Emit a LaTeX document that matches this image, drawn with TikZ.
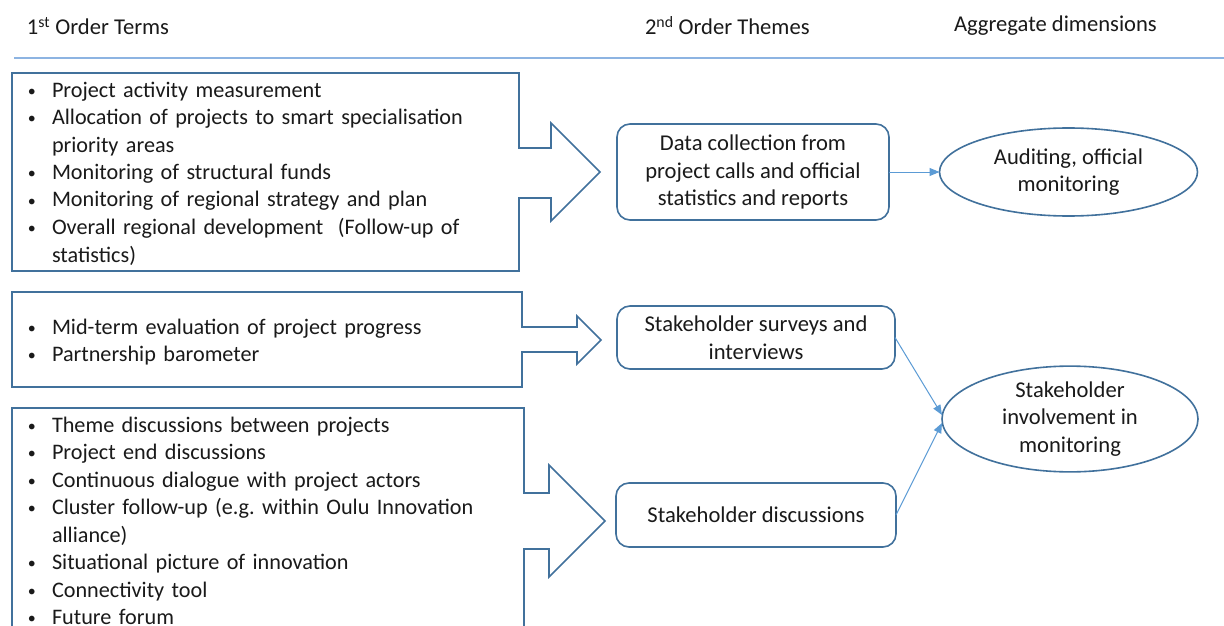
\documentclass[tikz,border=0pt]{standalone}
\usepackage{fontspec}
\setmainfont{Carlito}
\usetikzlibrary{shapes.geometric,arrows.meta,calc}
\definecolor{boxblue}{HTML}{41719C}
\definecolor{linkblue}{HTML}{5B9BD5}
\definecolor{ruleblue}{HTML}{8DB4E2}
\definecolor{txt}{HTML}{1A1A1A}
\newcommand{\bul}{\makebox[25pt][l]{\hspace*{1pt}\raisebox{1pt}{\fontsize{16}{16}\selectfont\textbullet}}}
\newcommand{\cont}{\hspace*{25pt}}
\tikzset{
  every node/.style={inner sep=0pt, outer sep=0pt, text=txt},
  basefont/.style={font=\fontsize{22.6}{27.6}\selectfont},
  hdr/.style={basefont},
  callout/.style={draw=boxblue, line width=1.6pt, line join=miter},
  listtext/.style={font=\fontsize{22.2}{27.5}\selectfont, text width=495pt, align=left, anchor=base west},
  theme/.style={basefont, draw=boxblue, line width=1.6pt, rounded corners=13pt, align=center},
  dimension/.style={basefont, draw=boxblue, line width=1.6pt, ellipse, align=center},
  link/.style={draw=linkblue, line width=1pt, -{Triangle[length=10pt,width=8pt]}},
}
\begin{document}
\begin{tikzpicture}[x=1pt,y=-1pt]
\useasboundingbox (0,0) rectangle (1224,626);
\clip (0,0) rectangle (1224,626);
\fill[white] (0,0) rectangle (1224,626);

% headers
\node[hdr, anchor=base west] (h1) at (27,35) {1\textsuperscript{st} Order Terms};
\node[hdr, anchor=base west] (h2) at (645,35) {2\textsuperscript{nd} Order Themes};
\node[hdr, anchor=base west] (h3) at (954,32) {Aggregate dimensions};
\draw[ruleblue, line width=1.6pt] (14,58) -- (1224,58);

% callout outlines
\draw[callout] (12,73) -- (519,73) -- (519,148) -- (551,148) -- (551,123) -- (600,172)
  -- (551,221) -- (551,198) -- (519,198) -- (519,271) -- (12,271) -- cycle;
\draw[callout] (12,292) -- (522,292) -- (522,327) -- (577,327) -- (577,316) -- (601,340)
  -- (577,364) -- (577,352) -- (522,352) -- (522,387) -- (12,387) -- cycle;
\draw[callout] (12,408) -- (524,408) -- (524,493) -- (549,493) -- (549,465) -- (605,521)
  -- (549,577) -- (549,549) -- (524,549) -- (524,640) -- (12,640) -- cycle;

% first order terms
\node[listtext] (t1) at (27,97) {\bul Project activity measurement\\
\bul Allocation of projects to smart specialisation\\
\cont priority areas\\
\bul Monitoring of structural funds\\
\bul Monitoring of regional strategy and plan\\
\bul Overall regional development\ \ (Follow-up of\\
\cont statistics)};
\node[listtext] (t2) at (27,334) {\bul Mid-term evaluation of project progress\\
\bul Partnership barometer};
\node[listtext] (t3) at (27,432) {\bul Theme discussions between projects\\
\bul Project end discussions\\
\bul Continuous dialogue with project actors\\
\bul Cluster follow-up (e.g.\ within Oulu Innovation\\
\cont alliance)\\
\bul Situational picture of innovation\\
\bul Connectivity tool\\
\bul Future forum};

% second order themes
\node[theme, minimum width=272pt, minimum height=96pt] (A) at (753,172)
  {Data collection from\\project calls and official\\statistics and reports};
\node[theme, minimum width=278pt, minimum height=63pt] (B) at (756,337.5)
  {Stakeholder surveys and\\interviews};
\node[theme, minimum width=280pt, minimum height=64pt] (C) at (756,515)
  {Stakeholder discussions};

% aggregate dimensions
\node[dimension, minimum width=258pt, minimum height=88pt] (E1) at (1068.5,172)
  {Auditing, official\\monitoring};
\node[dimension, minimum width=256pt, minimum height=91pt] (E2) at (1070,419)
  {Stakeholder\\involvement in\\monitoring};

% connectors
\draw[link] (A.east) -- (E1.west);
\draw[link] (B.east) -- ($(E2.west)+(0,-4)$);
\draw[link] (C.east) -- ($(E2.west)+(0,4)$);
\end{tikzpicture}
\end{document}
